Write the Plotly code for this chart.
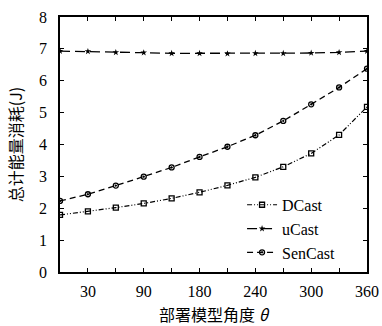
import plotly.graph_objects as go

x_idx = list(range(12))
tick_pos = [1, 3, 5, 7, 9, 11]
tick_text = ["30", "90", "180", "240", "300", "360"]

dcast = [1.79, 1.90, 2.02, 2.15, 2.31, 2.50, 2.72, 2.97, 3.30, 3.72, 4.30, 5.18]
ucast = [6.93, 6.92, 6.89, 6.88, 6.86, 6.86, 6.85, 6.86, 6.86, 6.87, 6.89, 6.93]
sencast = [2.23, 2.44, 2.71, 2.99, 3.28, 3.61, 3.93, 4.29, 4.74, 5.26, 5.79, 6.38]

serif = "Liberation Serif, DejaVu Serif, serif"
cjk = "Noto Sans CJK SC"

fig = go.Figure()
fig.add_trace(go.Scatter(x=x_idx, y=dcast, name="DCast", mode="lines+markers",
                         line=dict(color="black", width=1.2, dash="5px,2px,1px,2px,1px,2px"),
                         marker=dict(symbol="square-open", size=5, color="black", line=dict(width=1.3))))
fig.add_trace(go.Scatter(x=x_idx, y=ucast, name="uCast", mode="lines+markers",
                         line=dict(color="black", width=1.3, dash="10px,5px"),
                         marker=dict(symbol="star", size=5, color="black")))
fig.add_trace(go.Scatter(x=x_idx, y=sencast, name="SenCast", mode="lines+markers",
                         line=dict(color="black", width=1.3, dash="6px,4px"),
                         marker=dict(symbol="circle-open-dot", size=5, color="black", line=dict(width=1.3))))

all_ticks = list(range(0, 12))
all_text = [tick_text[tick_pos.index(i)] if i in tick_pos else "" for i in all_ticks]

fig.update_layout(
    width=382, height=326,
    margin=dict(l=60, r=15, t=17, b=54),
    plot_bgcolor="white", paper_bgcolor="white",
    font=dict(family=serif, size=16, color="black"),
    showlegend=True,
    legend=dict(x=0.593, y=0.33, xanchor="left", yanchor="top",
                bgcolor="rgba(0,0,0,0)", font=dict(family=serif, size=16),
                itemwidth=30, tracegroupgap=0),
    xaxis=dict(range=[0, 11], tickmode="array", tickvals=all_ticks, ticktext=all_text,
               ticks="inside", ticklen=4, tickcolor="black", showline=True, linecolor="black",
               linewidth=1.5, mirror="ticks", showgrid=False, zeroline=False,
               ticklabelstandoff=4, automargin=False,
               title=dict(text="部署模型角度 <i>θ</i>", font=dict(family=cjk, size=16), standoff=12)),
    yaxis=dict(range=[0, 8], tickvals=list(range(0, 9)),
               ticks="inside", ticklen=4, tickcolor="black", showline=True, linecolor="black",
               linewidth=1.5, mirror="ticks", showgrid=False, zeroline=False,
               ticklabelstandoff=8, automargin=False,
               title=dict(text="总计能量消耗(J)", font=dict(family=cjk, size=16), standoff=12)),
)

fig.write_html("out.html")
